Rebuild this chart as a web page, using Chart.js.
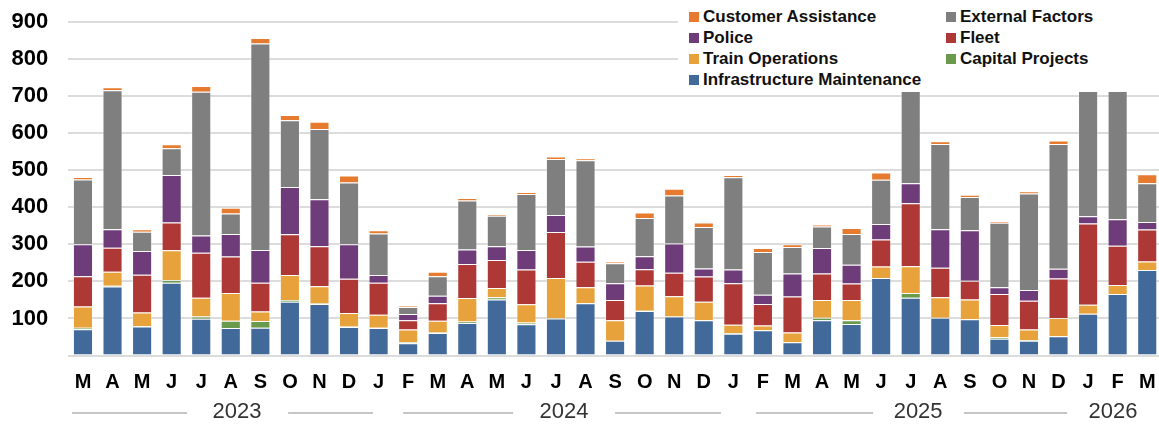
<!DOCTYPE html>
<html>
<head>
<meta charset="utf-8">
<script src="https://cdn.jsdelivr.net/npm/chart.js@4.4.1/dist/chart.umd.min.js"></script>
<style>
  html, body { margin: 0; padding: 0; background: #fff; overflow: hidden; }
  #wrap { position: relative; width: 1162px; height: 424px; }
  #legend {
    position: absolute; left: 678px; top: 0; width: 481px; height: 92px;
    background: #fff; box-sizing: border-box; padding: 7px 0 0 11px;
    display: grid; grid-template-columns: 257px 200px; grid-auto-rows: 20.8px;
    font: bold 17px "Liberation Sans", Arial, sans-serif; color: #111;
  }
  .lg-item { display: flex; align-items: center; white-space: nowrap; }
  .lg-box { width: 10px; height: 10px; margin-right: 4px; flex: none; }
</style>
</head>
<body>
<div id="wrap">
  <canvas id="chart" width="1162" height="424"></canvas>
  <div id="legend"></div>
</div>
<script>
// ── Data (Mar 2023 – Mar 2026) ──
const months = ['M','A','M','J','J','A','S','O','N','D',
                'J','F','M','A','M','J','J','A','S','O','N','D',
                'J','F','M','A','M','J','J','A','S','O','N','D',
                'J','F','M'];
const years = ['2023', '2024', '2025', '2026'];
const yTicks = [100, 200, 300, 400, 500, 600, 700, 800, 900];

const infra    = [71,186,78,196,99,74,75,145,139,77, 74,33,61,88,151,84,100,141,40,120,105,95, 59,68,36,95,85,209,156,102,98,45,40,52, 113,166,231];
const capital  = [4,2,1,8,6,20,18,5,1,1, 1,3,1,4,6,5,1,1,0,1,0,0, 1,0,0,7,10,0,13,0,0,4,1,0, 0,0,0];
const train    = [57,38,37,80,51,75,26,67,47,37, 35,34,32,63,25,49,108,42,55,68,55,50, 23,13,26,48,55,31,72,55,53,33,29,49, 24,24,23];
const fleet    = [82,65,102,75,121,98,77,110,108,92, 86,25,47,92,76,94,124,69,55,44,63,68, 112,58,97,71,44,73,170,80,51,84,78,107, 219,106,86];
const police   = [86,50,64,128,47,61,89,128,127,93, 21,17,20,39,37,53,46,41,45,35,79,22, 37,25,62,69,51,42,54,104,136,18,29,26, 20,72,20];
const external = [175,375,52,72,388,55,557,180,189,167, 112,19,53,132,82,151,151,233,54,103,130,112, 249,115,72,58,83,119,305,230,90,174,260,337, 414,392,105];
const customer = [7,8,7,11,15,16,15,14,20,19, 9,3,12,7,4,5,7,5,4,15,18,12, 6,11,7,5,16,20,10,7,6,4,6,9, 8,10,24];

// stack order bottom → top
const series = [
  { label: 'Infrastructure Maintenance', data: infra,    color: '#416a9b' },
  { label: 'Capital Projects',           data: capital,  color: '#6a9a4b' },
  { label: 'Train Operations',           data: train,    color: '#e8a23b' },
  { label: 'Fleet',                      data: fleet,    color: '#ad3835' },
  { label: 'Police',                     data: police,   color: '#6f3c7a' },
  { label: 'External Factors',           data: external, color: '#7f7f7f' },
  { label: 'Customer Assistance',        data: customer, color: '#e67a2f' },
];

// year row under the month letters (positions in category units)
const yearLayout = [
  { at: 5.21,  lines: [[-0.37, 3.52], [6.94, 9.81]] },
  { at: 16.27, lines: [[10.83, 14.55], [18.0, 21.58]] },
  { at: 28.25, lines: [[22.77, 26.73], [29.8, 33.29]] },
  { at: 34.84, lines: [] },
];

const yearRow = {
  id: 'yearRow',
  afterDraw(chart) {
    const { ctx, scales: { x } } = chart;
    const y = 412;
    ctx.save();
    ctx.strokeStyle = '#b3b3b3';
    ctx.lineWidth = 1.5;
    ctx.fillStyle = '#333';
    ctx.font = '22px "Liberation Sans", Arial, sans-serif';
    ctx.textAlign = 'center';
    ctx.textBaseline = 'middle';
    yearLayout.forEach((yl, i) => {
      ctx.fillText(years[i], x.getPixelForValue(yl.at), y);
      yl.lines.forEach(([a, b]) => {
        ctx.beginPath();
        ctx.moveTo(x.getPixelForValue(a), y + 1);
        ctx.lineTo(x.getPixelForValue(b), y + 1);
        ctx.stroke();
      });
    });
    ctx.restore();
  }
};

new Chart(document.getElementById('chart'), {
  type: 'bar',
  data: {
    labels: months,
    datasets: series.map(s => ({
      label: s.label, data: s.data, backgroundColor: s.color,
      borderColor: 'rgba(255,255,255,0.35)', borderWidth: 1,
      barPercentage: 0.68, categoryPercentage: 1,
    })),
  },
  options: {
    responsive: false, animation: false,
    layout: { padding: { top: 22, right: 0, bottom: 0, left: 0 } },
    plugins: { legend: { display: false }, tooltip: { enabled: false } },
    scales: {
      x: {
        stacked: true,
        grid: { display: false, drawTicks: false },
        border: { display: false },
        ticks: { color: '#000', font: { family: '"Liberation Sans", Arial', size: 20, weight: 'bold' }, padding: 15, maxRotation: 0, autoSkip: false },
        afterFit: s => { s.height = 68.5; s.paddingLeft = 0; s.paddingRight = 0; },
      },
      y: {
        stacked: true, min: 0, max: 900,
        grid: { color: '#dcdcdc', lineWidth: 2, drawTicks: false },
        border: { display: false },
        ticks: {
          stepSize: 100, padding: 20, color: '#000',
          font: { family: '"Liberation Sans", Arial', size: 22, weight: 'bold' },
          callback: v => yTicks.includes(v) ? String(v) : '',
        },
        afterFit: s => { s.width = 68.2; s.paddingTop = 0; s.paddingBottom = 0; },
      },
    },
  },
  plugins: [yearRow],
});

// legend: reversed stack order, two columns
document.getElementById('legend').innerHTML = series.slice().reverse().map(s =>
  `<div class="lg-item"><span class="lg-box" style="background:${s.color}"></span>${s.label}</div>`
).join('');
</script>
</body>
</html>
